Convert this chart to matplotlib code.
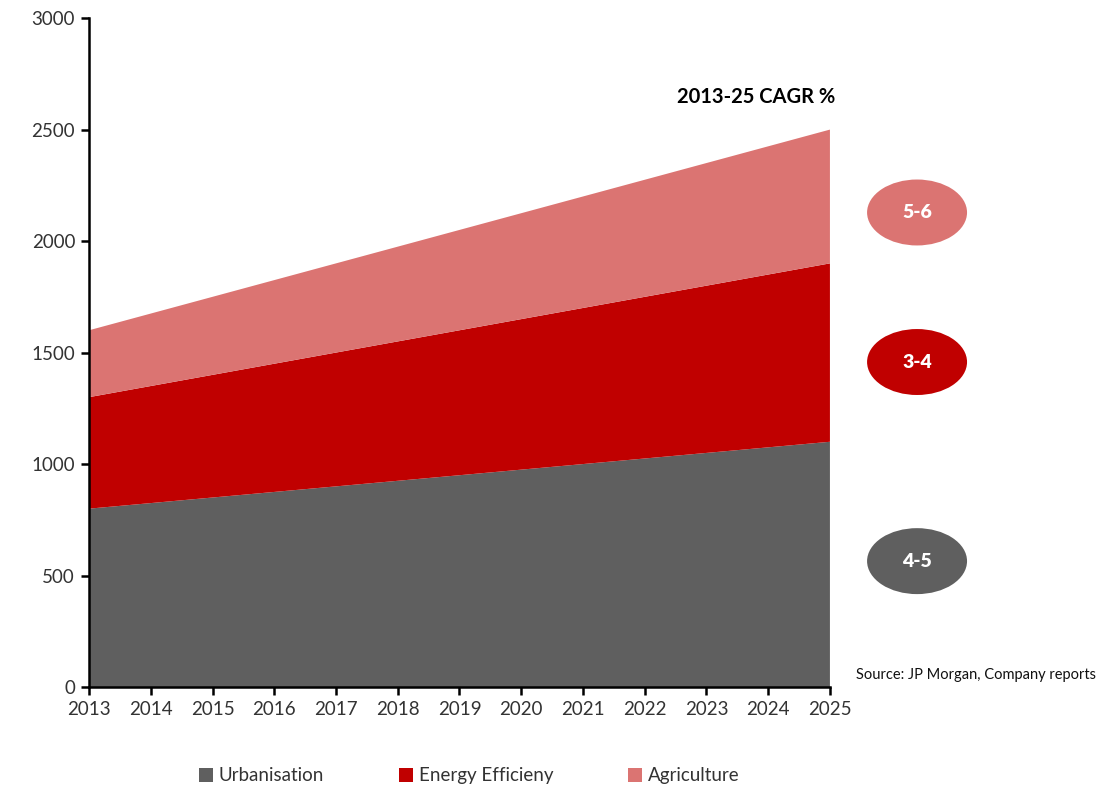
import matplotlib
matplotlib.use("Agg")
import matplotlib.pyplot as plt
from matplotlib.patches import Ellipse, Patch

plt.rcParams['font.family'] = ['Lato', 'DejaVu Sans']

years = [2013, 2014, 2015, 2016, 2017, 2018, 2019, 2020, 2021, 2022, 2023, 2024, 2025]
urbanisation = [800, 825, 850, 875, 900, 925, 950, 975, 1000, 1025, 1050, 1075, 1100]
energy = [500, 525, 550, 575, 600, 625, 650, 675, 700, 725, 750, 775, 800]
agriculture = [300, 325, 350, 375, 400, 425, 450, 475, 500, 525, 550, 575, 600]
labels = ['Urbanisation', 'Energy Efficieny', 'Agriculture']
cagr = ['4-5', '3-4', '5-6']
colors = ['#5F5F5F', '#C00000', '#DB7472']

fig = plt.figure(figsize=(11.17, 7.87), dpi=100)
ax = fig.add_axes([0.0797, 0.127, 0.6633, 0.850])

ax.stackplot(years, urbanisation, energy, agriculture, colors=colors, linewidth=0)
ax.set_xlim(2013, 2025)
ax.set_ylim(0, 3000)
ax.set_xticks(years)
ax.set_yticks(range(0, 3001, 500))
for s in ['top', 'right']:
    ax.spines[s].set_visible(False)
for s in ['left', 'bottom']:
    ax.spines[s].set_linewidth(1.8)
ax.tick_params(direction='out', length=6, width=1.8, labelsize=13.5, labelcolor='#333333', pad=4)

fig.text(0.748, 0.877, '2013-25 CAGR %', ha='right', va='center', fontsize=14.5, fontweight='bold')

# CAGR bubbles, bottom to top
ys = [0.287, 0.540, 0.730]
for c, t, y in zip(colors, cagr, ys):
    e = Ellipse((0.821, y), 0.0895, 0.0838, transform=fig.transFigure, facecolor=c, edgecolor='none')
    fig.add_artist(e)
    fig.text(0.821, y, t, ha='center', va='center', color='white', fontsize=14, fontweight='heavy')

fig.text(0.766, 0.142, 'Source: JP Morgan, Company reports', ha='left', va='center', fontsize=10.5, color='#111111')

handles = [Patch(facecolor=c, edgecolor='none') for c in colors]
fig.legend(handles, labels, loc='center', bbox_to_anchor=(0.42, 0.014), ncol=3, frameon=False,
           fontsize=13.5, handlelength=0.75, handleheight=0.75, handletextpad=0.3, columnspacing=4.0,
           labelcolor='#333333')

fig.savefig('out.png', dpi=100)
